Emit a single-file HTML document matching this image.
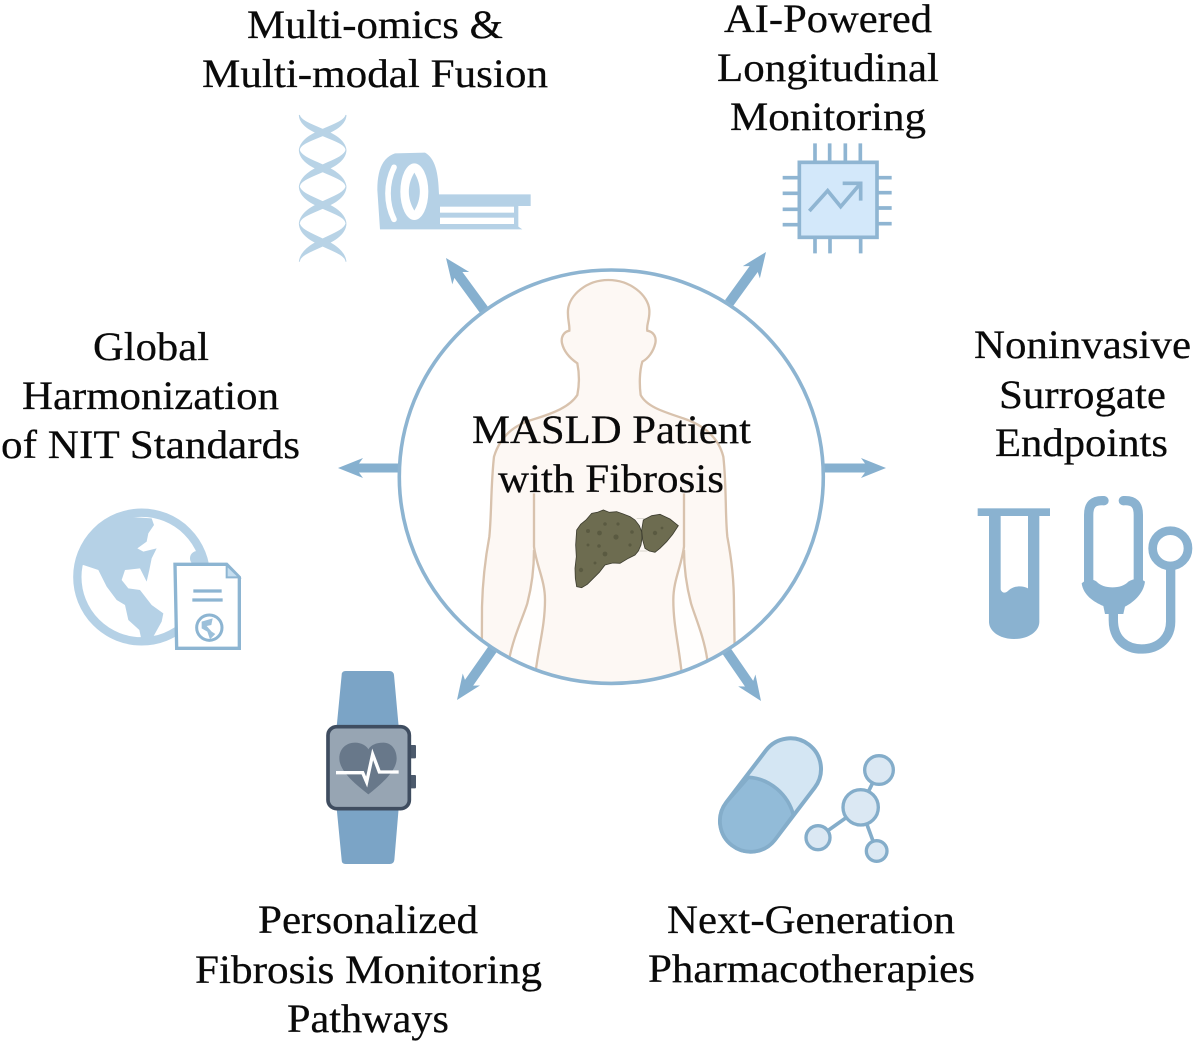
<!DOCTYPE html>
<html>
<head>
<meta charset="utf-8">
<style>
html,body{margin:0;padding:0;background:#fff}
svg{display:block;filter:blur(.35px)}
text{font-family:"Liberation Serif",serif;font-size:40px;fill:#0a0a0a;stroke:#0a0a0a;stroke-width:.25px}
</style>
</head>
<body>
<svg width="1200" height="1043" viewBox="0 0 1200 1043" xmlns="http://www.w3.org/2000/svg">
<defs>
<clipPath id="cc"><ellipse cx="611.3" cy="476.7" rx="211" ry="205.5"/></clipPath>
</defs>
<rect width="1200" height="1043" fill="#fff"/>

<!-- arrows -->
<g fill="#86b0cf">
<polygon transform="translate(446,258) rotate(-126.2)" points="0,0 -25,-10.500 -21,-5 -66,-5 -66,5 -21,5 -25,10.500"/>
<polygon transform="translate(766,252) rotate(-54.100)" points="0,0 -25,-10.500 -21,-5 -63,-5 -63,5 -21,5 -25,10.500"/>
<polygon transform="translate(338,468) rotate(180)" points="0,0 -25,-10 -21,-4.500 -64,-4.500 -64,4.500 -21,4.500 -25,10"/>
<polygon transform="translate(886,468)" points="0,0 -25,-10 -21,-4.500 -65,-4.500 -65,4.500 -21,4.500 -25,10"/>
<polygon transform="translate(457,700) rotate(125)" points="0,0 -25,-10.500 -21,-5 -63,-5 -63,5 -21,5 -25,10.500"/>
<polygon transform="translate(761,701) rotate(55.400)" points="0,0 -25,-10.500 -21,-5 -62,-5 -62,5 -21,5 -25,10.500"/>
</g>

<!-- central circle and body -->
<ellipse cx="611.3" cy="476.7" rx="212" ry="206.700" fill="#fff"/>
<g clip-path="url(#cc)">
<g transform="translate(390,260) scale(0.33333)">
<path d="M655,60 C720,60 775,105 778,150 C780,180 768,195 772,212 C790,215 800,230 796,250 C790,275 775,295 757,305 C748,335 748,375 752,405 C770,440 820,455 880,475 C940,495 985,530 1000,590 C1010,680 1005,760 1012,830 C1025,900 1032,960 1032,1040 L1036,1300 L275,1300 L276,1040 C278,960 285,900 298,830 C305,760 302,680 312,590 C330,530 370,495 430,478 C490,460 540,440 562,405 C568,375 568,340 562,310 C540,295 522,275 516,250 C512,230 522,215 538,212 C540,195 532,180 534,150 C538,105 590,60 655,60 Z" fill="#fdf8f4" stroke="#d8c2ad" stroke-width="7"/>
<path d="M432,700 L432,860 C440,920 465,960 465,1020 C465,1100 445,1160 435,1250 L430,1330 L340,1330 L357,1200 C370,1130 400,1070 412,1030 C425,980 432,920 432,870" fill="#fffefd" stroke="#d8c2ad" stroke-width="7"/>
<path d="M882,700 L882,860 C874,920 850,960 850,1020 C850,1100 868,1160 876,1250 L880,1330 L970,1330 L952,1200 C942,1130 915,1070 903,1030 C890,980 882,920 882,870" fill="#fffefd" stroke="#d8c2ad" stroke-width="7"/>
</g>
</g>
<ellipse cx="611.3" cy="476.7" rx="212" ry="206.700" fill="none" stroke="#8db4d1" stroke-width="3.6"/>

<!-- liver -->
<g transform="translate(560,495)">
<path d="M230,71 L258,71 M238,168 L262,168" stroke="#c9c7bd" stroke-width="2" fill="none" transform="scale(0.3333)"/>
<path d="M50,105 L62,88 L78,75 L95,55 L112,52 L130,45 L148,52 L170,50 L190,57 L210,65 L225,75 L238,92 L245,110 L246,130 L243,150 L235,168 L225,180 L205,190 L180,205 L158,204 L135,210 L118,232 L100,250 L82,268 L65,278 L50,275 L46,250 L45,220 L49,185 L47,150 Z" fill="#6d6c50" stroke="#3e3e30" stroke-width="2.5" transform="scale(0.3333)"/>
<path d="M250,75 L275,62 L300,58 L330,72 L355,92 L338,118 L320,140 L300,160 L285,172 L268,168 L255,160 L248,135 L245,105 Z" fill="#6d6c50" stroke="#3e3e30" stroke-width="2.5" transform="scale(0.3333)"/>
<g fill="#4f4f38" opacity=".6">
<circle cx="39.500" cy="38" r="2.400"/><circle cx="56" cy="42" r="2.600"/><circle cx="45" cy="29" r="1.800"/><circle cx="58" cy="29" r="1.600"/><circle cx="72" cy="37" r="1.800"/><circle cx="28" cy="36" r="2"/><circle cx="39" cy="51" r="1.800"/><circle cx="45" cy="59" r="2.400"/><circle cx="70" cy="50" r="1.600"/><circle cx="21" cy="75" r="2.200"/><circle cx="28" cy="50" r="1.500"/><circle cx="95" cy="38" r="2.200"/><circle cx="102" cy="33" r="1.400"/><circle cx="35" cy="68" r="1.500"/>
</g>
</g>

<!-- DNA -->
<g transform="translate(280,100) scale(0.33333)" fill="#b8d3e6" stroke="#b8d3e6" stroke-width="3">
<path d="M58,45 C66,80 190,90 198,150 C196,115 60,105 58,45Z"/>
<path d="M58,150 C66,186 190,197 198,260 C196,224 60,213 58,150Z"/>
<path d="M58,260 C66,296 190,307 198,370 C196,334 60,323 58,260Z"/>
<path d="M58,370 C66,408 190,419 198,485 C196,447 60,436 58,370Z"/>
<g transform="translate(256,0) scale(-1,1)">
<path d="M58,45 C66,80 190,90 198,150 C196,115 60,105 58,45Z"/>
<path d="M58,150 C66,186 190,197 198,260 C196,224 60,213 58,150Z"/>
<path d="M58,260 C66,296 190,307 198,370 C196,334 60,323 58,260Z"/>
<path d="M58,370 C66,408 190,419 198,485 C196,447 60,436 58,370Z"/>
</g>
</g>

<!-- MRI -->
<g transform="translate(280,100) scale(0.33333)">
<path d="M300,388 L292,270 C292,205 310,172 345,160 L435,158 C465,175 475,215 477,283 L752,283 L752,318 L715,318 L715,380 L727,388 Z" fill="#b5d1e6"/>
<rect x="480" y="320" width="222" height="18" fill="#fff"/>
<rect x="480" y="353" width="222" height="19" fill="#fff"/>
<path d="M342,202 C318,250 318,310 342,358" fill="none" stroke="#fff" stroke-width="17" stroke-linecap="round"/>
<ellipse cx="403" cy="275" rx="42" ry="85" fill="#fff"/>
<path d="M403,218 C425,255 425,295 403,332 C381,295 381,255 403,218 Z" fill="#b5d1e6"/>
</g>

<!-- chip -->
<g transform="translate(700,130) scale(0.33333)" fill="none" stroke="#8fb5d2" stroke-width="11">
<rect x="298" y="97" width="233" height="225" fill="#d3e8fa"/>
<path d="M345,40V97M389,40V97M436,40V97M481,40V97M345,322V370M390,322V370M482,322V370M248,143H298M248,190H298M248,238H298M248,284H298M531,143H575M531,188H575M531,234H575M531,281H575"/>
<path d="M328,243 L383,182 L422,230 L482,160 M428,160 H482 V212"/>
</g>

<!-- globe + document -->
<g transform="translate(50,490) scale(0.33333)">
<circle cx="275" cy="261" r="193" fill="#fff" stroke="#b5d1e6" stroke-width="25"/>
<path d="M200,78 L305,85 L312,105 L295,130 L290,155 L262,175 L280,185 L320,175 L305,205 L298,240 L290,275 L270,235 L225,240 L215,270 L235,295 L270,300 L305,345 L340,370 L335,395 L310,440 L275,452 L268,420 L235,390 L225,345 L200,330 L170,290 L145,240 L100,225 L88,230 L90,180 L120,140 Z" fill="#b5d1e6"/>
<circle cx="442" cy="205" r="22" fill="#b5d1e6"/>
<path d="M375,223 L530,223 L568,262 L568,475 L380,475 Z" fill="#fff" stroke="#8db5d2" stroke-width="10"/>
<path d="M530,225 L530,262 L568,262 Z" fill="#c5def0" stroke="#8db5d2" stroke-width="6"/>
<path d="M430,303H515M427,330H518" stroke="#8db5d2" stroke-width="10" fill="none"/>
<circle cx="478" cy="413" r="38" fill="#fff" stroke="#8db5d2" stroke-width="9"/>
<path d="M455,395 L488,385 L484,405 L470,408 L485,425 L496,432 L480,448 L472,425 L455,415 Z" fill="#9cc0da"/>
</g>

<!-- test tube + stethoscope -->
<g transform="translate(960,480) scale(0.33333)">
<rect x="53" y="85" width="217" height="23" fill="#8ab2d0"/>
<path d="M87,108 H238 V425 C238,455 205,477 162,477 C120,477 87,455 87,425 Z" fill="#8ab2d0"/>
<path d="M122,108 H204 V325 C185,315 160,318 145,332 C135,342 125,338 122,328 Z" fill="#fff"/>
<g fill="none" stroke="#8ab2d0" stroke-width="28" stroke-linecap="round">
<path d="M432,62 C398,60 386,75 386,105 L386,310"/>
<path d="M490,62 C524,60 535,75 535,105 L535,310"/>
<path d="M460,395 L460,420 C460,480 500,507 545,507 C600,507 632,470 632,425 L632,250" stroke-linecap="butt"/>
</g>
<path d="M365,310 C385,292 400,298 410,305 C430,328 485,328 505,305 C520,296 540,292 555,305 C550,345 515,370 495,380 L490,402 L435,402 L430,378 C400,365 370,345 365,310 Z" fill="#8ab2d0"/>
<circle cx="631" cy="205" r="53" fill="#fff" stroke="#8ab2d0" stroke-width="26"/>
</g>

<!-- watch -->
<g transform="translate(300,660) scale(0.33333)">
<path d="M125,45 Q125,33 137,33 L268,33 Q280,33 282,45 L296,200 L110,200 Z" fill="#7ba4c6"/>
<path d="M110,445 L296,445 L283,600 Q281,612 269,612 L137,612 Q125,612 125,600 Z" fill="#7ba4c6"/>
<rect x="328" y="255" width="20" height="40" rx="3" fill="#4c5a6c"/>
<rect x="328" y="345" width="20" height="40" rx="3" fill="#4c5a6c"/>
<rect x="84" y="200" width="244" height="246" rx="26" fill="#97a5b3" stroke="#3f4d60" stroke-width="11"/>
<path d="M205,403 C170,375 118,335 118,295 C118,265 140,248 165,248 C185,248 200,258 205,268 C212,256 228,248 250,248 C275,248 290,270 290,295 C290,335 240,375 205,403 Z" fill="#68788a"/>
<polyline points="108,338 188,338 200,366 218,283 238,336 296,336" fill="none" stroke="#fff" stroke-width="10"/>
</g>

<!-- capsule + molecule -->
<g transform="translate(700,720) scale(0.33333)" stroke="#84adca">
<path d="M198,91 A92,92 0 0 1 344,203 L225,359 A92,92 0 0 1 79,247 Z" fill="#d4e6f3" stroke-width="12"/>
<path d="M145,172 C210,175 265,225 280,285 L225,359 A92,92 0 0 1 79,247 Z" fill="#92bbd8" stroke-width="11"/>
<path d="M482,262 L537,150 M482,262 L354,353 M482,262 L530,393" stroke-width="11" fill="none"/>
<g fill="#dbe8f3" stroke-width="10">
<circle cx="482" cy="262" r="53"/>
<circle cx="537" cy="150" r="43"/>
<circle cx="354" cy="353" r="36"/>
<circle cx="530" cy="393" r="31"/>
</g>
</g>

<!-- labels -->
<g transform="translate(0,0.8)">
<text x="247" y="37" textLength="256" lengthAdjust="spacingAndGlyphs">Multi-omics &amp;</text>
<text x="202" y="86" textLength="346" lengthAdjust="spacingAndGlyphs">Multi-modal Fusion</text>
<text x="724" y="31" textLength="208" lengthAdjust="spacingAndGlyphs">AI-Powered</text>
<text x="717" y="80" textLength="222" lengthAdjust="spacingAndGlyphs">Longitudinal</text>
<text x="730" y="129" textLength="196" lengthAdjust="spacingAndGlyphs">Monitoring</text>
<text x="93" y="359" textLength="116" lengthAdjust="spacingAndGlyphs">Global</text>
<text x="22" y="408" textLength="257" lengthAdjust="spacingAndGlyphs">Harmonization</text>
<text x="1" y="457" textLength="299" lengthAdjust="spacingAndGlyphs">of NIT Standards</text>
<text x="974" y="357" textLength="217" lengthAdjust="spacingAndGlyphs">Noninvasive</text>
<text x="999" y="407" textLength="167" lengthAdjust="spacingAndGlyphs">Surrogate</text>
<text x="995" y="455" textLength="173" lengthAdjust="spacingAndGlyphs">Endpoints</text>
<text x="258" y="932" textLength="220" lengthAdjust="spacingAndGlyphs">Personalized</text>
<text x="195" y="982" textLength="347" lengthAdjust="spacingAndGlyphs">Fibrosis Monitoring</text>
<text x="287" y="1031" textLength="162" lengthAdjust="spacingAndGlyphs">Pathways</text>
<text x="667" y="932" textLength="288" lengthAdjust="spacingAndGlyphs">Next-Generation</text>
<text x="648" y="981" textLength="327" lengthAdjust="spacingAndGlyphs">Pharmacotherapies</text>
<text x="472" y="442" textLength="279" lengthAdjust="spacingAndGlyphs">MASLD Patient</text>
<text x="498" y="491" textLength="226" lengthAdjust="spacingAndGlyphs">with Fibrosis</text>
</g>
</svg>
</body>
</html>
